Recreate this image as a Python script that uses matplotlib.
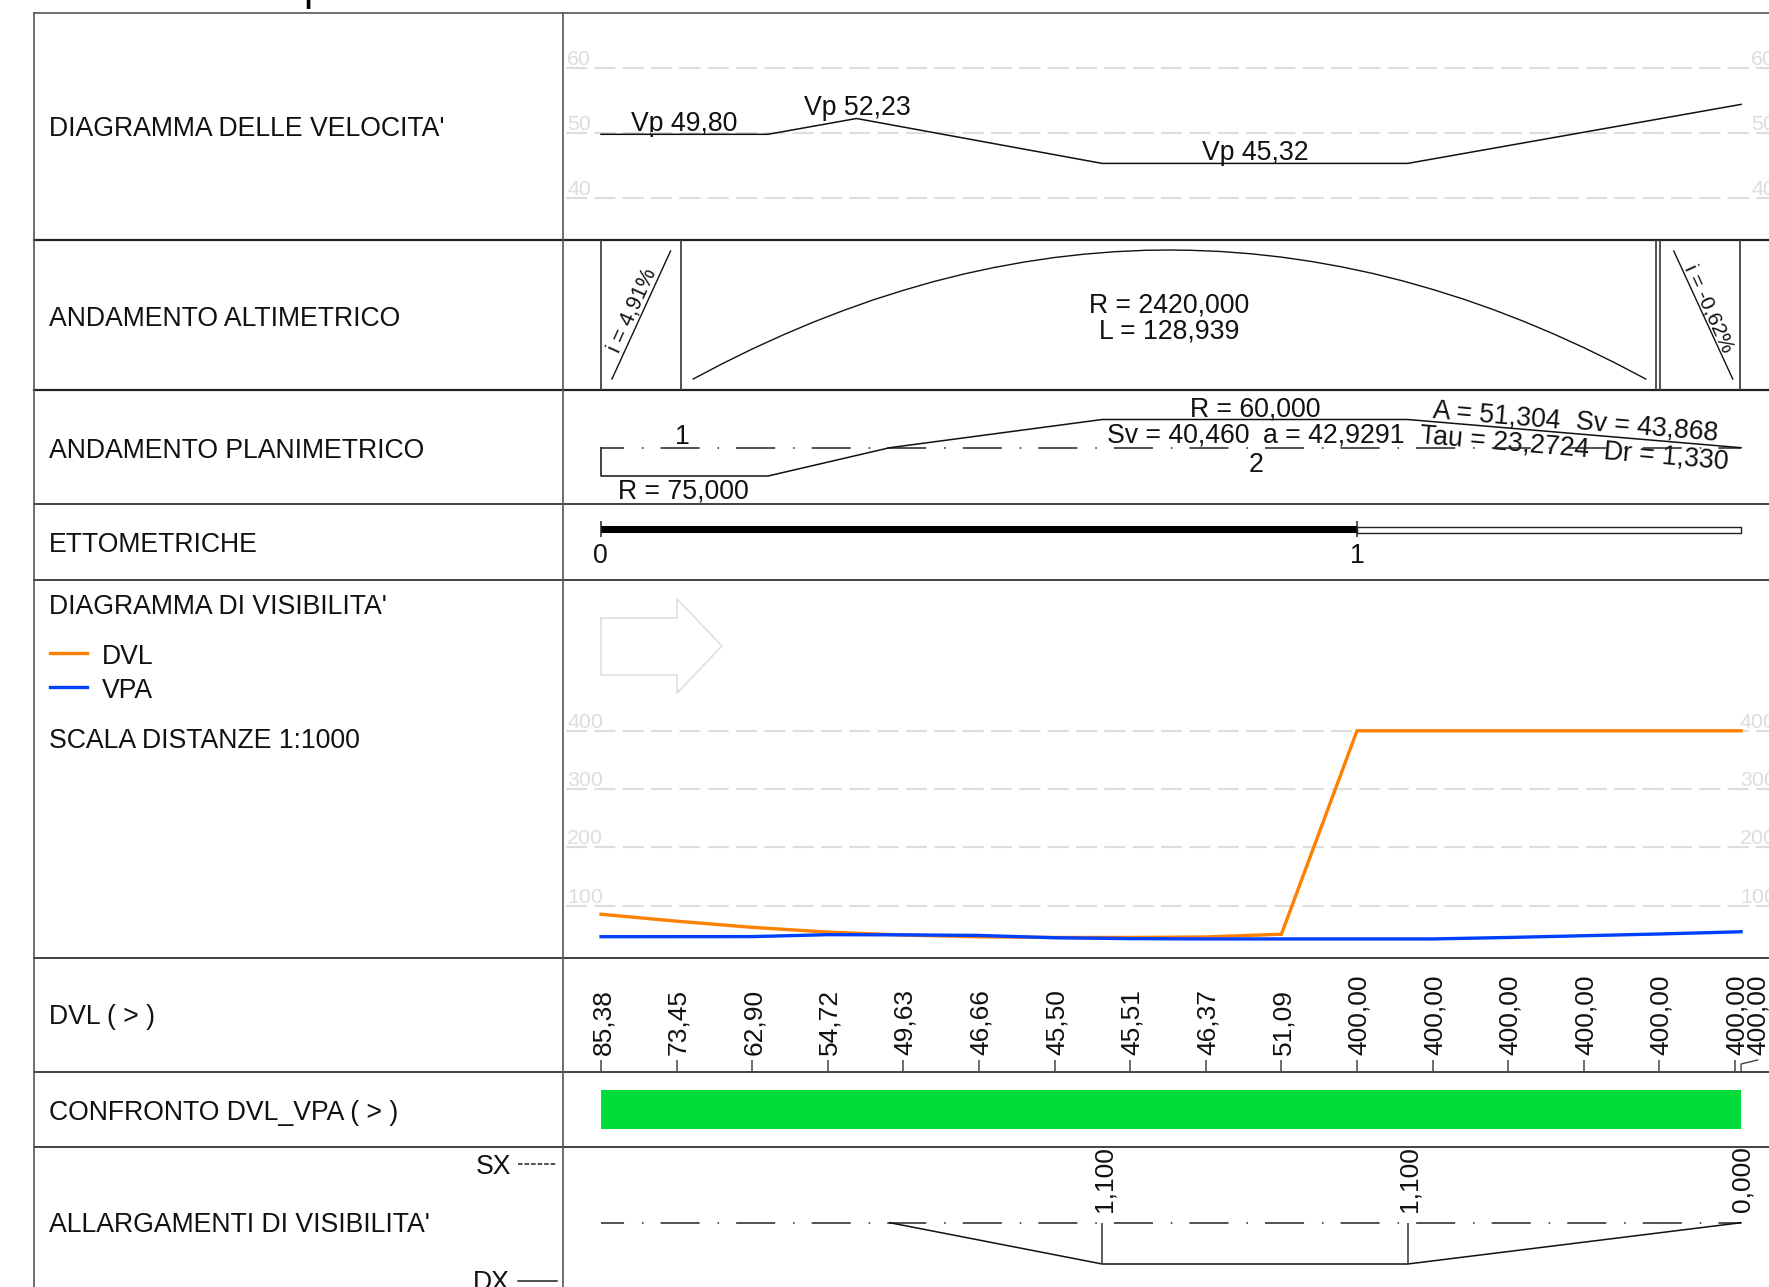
import numpy as np
import matplotlib
matplotlib.use("Agg")
import matplotlib.pyplot as plt

plt.rcParams['font.family'] = ['Liberation Sans', 'DejaVu Sans']
plt.rcParams['lines.scale_dashes'] = False

W, H = 1769, 1287
PX_PER_M = 7.56
X0 = 601  # pixel of progressive 0

# Velocity diagram
vel_x = [0, 22.1, 33.8, 66.3, 106.7, 150.8]
vel_y = [49.80, 49.80, 52.23, 45.32, 45.32, 54.4]
vel_ticks = [40, 50, 60]

# Vertical alignment (offset in px in the band)
alt_x = [12.2, 16, 20, 24, 28, 32, 36, 40, 44, 48, 52, 56, 60, 64, 68, 72, 75.2, 78, 82, 86,
         90, 94, 98, 102, 106, 110, 114, 118, 122, 126, 130, 134, 138.2]
alt_y = [379, 363.9, 349, 335.2, 322.4, 310.7, 299.9, 290.3, 281.6, 274, 267.5, 262, 257.5,
         254.1, 251.7, 250.3, 250, 250.3, 251.5, 253.8, 257.1, 261.5, 266.9, 273.3, 280.8,
         289.4, 298.9, 309.5, 321.2, 333.9, 347.6, 362.4, 379]
alt_breaks = [0, 10.6, 139.5, 140.1, 150.7]
grade_left_x = [1.45, 9.2]
grade_left_y = [379, 251]
grade_right_x = [141.9, 149.7]
grade_right_y = [251, 379]

# Plan alignment
plan_x = [0, 0, 22.1, 38.2, 66.3, 106.7, 150.8]
plan_y = [447.7, 476, 476, 447.7, 419.5, 419.5, 447.7]

# Ettometric
etto_km = [0, 100, 150.8]

# Visibility
stations = [0, 10, 20, 30, 40, 50, 60, 70, 80, 90, 100, 110, 120, 130, 140, 150, 150.8]
dvl = [85.38, 73.45, 62.90, 54.72, 49.63, 46.66, 45.50, 45.51, 46.37, 51.09,
       400, 400, 400, 400, 400, 400, 400]
vpa = [46.8, 46.9, 47, 50.3, 50, 49, 45, 43.5, 43, 43, 43, 43, 45.5, 48.5, 51.5, 55, 55.4]
vis_ticks = [100, 200, 300, 400]

# Widening
wide_x = [38.2, 66.3, 106.7, 150.8]
wide_y = [1222.7, 1264, 1264, 1222.7]
wide_stations = [66.3, 106.7, 150.8]
wide_labels = ['1,100', '1,100', '0,000']

row_lines = [13, 240, 390, 504, 580, 958, 1072, 1147]

left_labels = [
    ("DIAGRAMMA DELLE VELOCITA'", 128.5),
    ("ANDAMENTO ALTIMETRICO", 318.5),
    ("ANDAMENTO PLANIMETRICO", 451.5),
    ("ETTOMETRICHE", 545.5),
    ("DIAGRAMMA DI VISIBILITA'", 607.5),
    ("SCALA DISTANZE 1:1000", 740.5),
    ("DVL ( > )", 1017.5),
    ("CONFRONTO DVL_VPA ( > )", 1112.5),
    ("ALLARGAMENTI DI VISIBILITA'", 1225.5),
]

# label, x px, y px, rotation, size
band_texts = [
    ("Vp 49,80", 683.7, 124, 0, 19.2), ("Vp 52,23", 857, 108, 0, 19.2), ("Vp 45,32", 1255.7, 153, 0, 19.2),
    ("R = 2420,000", 1169, 305.5, 0, 19.2), ("L = 128,939", 1169, 331.5, 0, 19.2),
    ("i = 4,91%", 633, 311, 65.5, 15.5), ("i = -0,62%", 1709, 308.5, -65.5, 15),
    ("1", 682.5, 437.5, 0, 19.2), ("R = 75,000", 683.7, 492, 0, 19.2), ("R = 60,000", 1255.7, 409, 0, 19.2),
    ("Sv = 40,460", 1178, 436, 0, 19.2), ("a = 42,9291", 1333.5, 436, 0, 19.2), ("2", 1255.7, 464.5, 0, 19.2),
    ("A = 51,304", 1497, 416, -4.8, 19.2), ("Sv = 43,868", 1647, 428, -4.8, 19.2),
    ("Tau = 23,2724", 1504, 443, -4.8, 19.2), ("Dr = 1,330", 1666, 456.6, -4.8, 19.2),
    ("0", 600, 556, 0, 19.2), ("1", 1357, 556, 0, 19.2),
]

ORANGE = '#FF8000'
BLUE = '#0040FF'
GREEN = '#00DD3A'
GRID = '#DDDDDD'
FS = 19.2
TICK_FS = 19

fig = plt.figure(figsize=(W / 100, H / 100), dpi=100)

# frame and text, in pixels
ax = fig.add_axes([0, 0, 1, 1])
ax.set_xlim(0, W)
ax.set_ylim(H, 0)
ax.axis('off')


def band(top, bottom, ylim):
    a = fig.add_axes([566 / W, 1 - bottom / H, (W - 566) / W, (bottom - top) / H])
    a.set_xlim((566 - X0) / PX_PER_M, (W - X0) / PX_PER_M)
    a.set_ylim(*ylim)
    a.axis('off')
    a.patch.set_alpha(0)
    return a


def grid(a, ticks, label_x):
    for t in ticks:
        a.axhline(t, color=GRID, lw=1.5, dashes=(15.15, 5.25), dash_capstyle='butt')
        for lx in label_x:
            a.annotate(str(t), (lx, t), xycoords=('axes pixels', 'data'), xytext=(0, 2.2),
                       textcoords='offset points', color=GRID, fontsize=15.4, ha='left', va='baseline')


def centre_line(a, y):
    a.plot([0, 150.8], [y, y], color='#222222', lw=1.1, dash_capstyle='butt',
           linestyle=(11.5, (28.1, 12.9, 1.1, 12.3)))


for i, y in enumerate(row_lines):
    ax.plot([34, W], [y, y], color='#555555' if i == 0 else '#222222',
            lw=1.6 if i in (1, 2) else 1.2)
ax.plot([34, 34], [13, H], color='#555555', lw=1.2)
ax.plot([563, 563], [13, H], color='#555555', lw=1.2)

for txt, y in left_labels:
    ax.text(49, y, txt, fontsize=FS, va='center', ha='left', color='#111111')

# legend of the visibility diagram
ax.plot([50, 87], [653, 653], color=ORANGE, lw=2.4)
ax.plot([50, 87], [687, 687], color=BLUE, lw=2.4)
ax.text(101.5, 656.5, 'DVL', fontsize=FS, va='center', color='#111111')
ax.text(101.5, 690.5, 'VPA', fontsize=FS, va='center', color='#111111')

# direction arrow
ax.plot([601, 677, 677, 722, 677, 677, 601, 601], [618, 618, 599, 646, 693, 675, 675, 618],
        color=GRID, lw=1.1)

# SX / DX key
ax.text(511, 1167, 'SX', fontsize=FS, va='center', ha='right', color='#111111')
ax.text(510, 1283.5, 'DX', fontsize=FS, va='center', ha='right', color='#111111')
ax.plot([518, 557], [1164, 1164], color='#222222', lw=1.1, dashes=(3.3, 1.4), dash_capstyle='butt')
ax.plot([518, 557], [1281, 1281], color='#222222', lw=1.1)

# cut off title above the table
ax.text(303, 0, 'p', fontsize=30, va='baseline', ha='left', color='black')

for txt, x, y, rot, fs in band_texts:
    ax.text(x, y, txt, fontsize=fs, ha='center', va='center', rotation=rot,
            rotation_mode='anchor', color='#111111')

# velocity
ax_vel = band(13, 240, (50 + (133 - 240) / 6.5, 50 + (133 - 13) / 6.5))
grid(ax_vel, vel_ticks, [1, 1185])
ax_vel.plot(vel_x, vel_y, color='#111111', lw=1.1)

# altimetric
ax_alt = band(240, 390, (390, 240))
ax_alt.vlines(alt_breaks, 240, 390, color='#444444', lw=1.3)
ax_alt.plot(alt_x, alt_y, color='#111111', lw=1.0)
ax_alt.plot(grade_left_x, grade_left_y, color='#111111', lw=1.0)
ax_alt.plot(grade_right_x, grade_right_y, color='#111111', lw=1.0)

# plan
ax_plan = band(390, 504, (504, 390))
centre_line(ax_plan, 447.7)
ax_plan.plot(plan_x, plan_y, color='#111111', lw=1.1)

# ettometric
ax_etto = band(504, 580, (580, 504))
ax_etto.fill_between(etto_km[:2], 526, 533, color='black', lw=0)
ax_etto.fill_between(etto_km[1:], 526.5, 532.5, facecolor='white', edgecolor='#222222', lw=1)
ax_etto.vlines(etto_km[:2], 521, 537, color='#222222', lw=1.1)

# visibility
ax_vis = band(580, 958, ((964 - 958) / 0.583, (964 - 580) / 0.583))
grid(ax_vis, vis_ticks, [1, 1174])
ax_vis.plot(stations, dvl, color=ORANGE, lw=2.4, solid_joinstyle='miter')
ax_vis.plot(stations, vpa, color=BLUE, lw=2.4)

# DVL values
ax_dvl = band(958, 1072, (1072, 958))
ax_dvl.vlines(stations[:-1], 1060, 1072, color='#444444', lw=1.1)
ax_dvl.plot([stations[-1], stations[-1], 153.0], [1072, 1064, 1060], color='#444444', lw=1.0)
for s, v in zip(stations[:-1], dvl[:-1]):
    ax_dvl.text(s + 0.25, 1055, f'{v:.2f}'.replace('.', ','), rotation=90, fontsize=TICK_FS,
                ha='center', va='bottom', color='#111111')
ax_dvl.text(153.0, 1055, f'{dvl[-1]:.2f}'.replace('.', ','), rotation=90, fontsize=TICK_FS,
            ha='center', va='bottom', color='#111111')

# comparison bar
ax_cmp = band(1072, 1147, (1147, 1072))
ax_cmp.bar(stations[:-1], 39, width=np.diff(stations), bottom=1090, align='edge', color=GREEN, lw=0)

# widening
ax_wide = band(1147, H, (H, 1147))
centre_line(ax_wide, 1222.7)
ax_wide.plot(wide_x, wide_y, color='#111111', lw=1.1)
ax_wide.vlines(wide_x[1:3], 1222.7, 1264, color='#333333', lw=1.1)
for s, lab in zip(wide_stations, wide_labels):
    ax_wide.text(s + 0.25, 1212, lab, rotation=90, fontsize=TICK_FS, ha='center', va='bottom', color='#111111')

fig.savefig('out.png', dpi=100, facecolor='white')
